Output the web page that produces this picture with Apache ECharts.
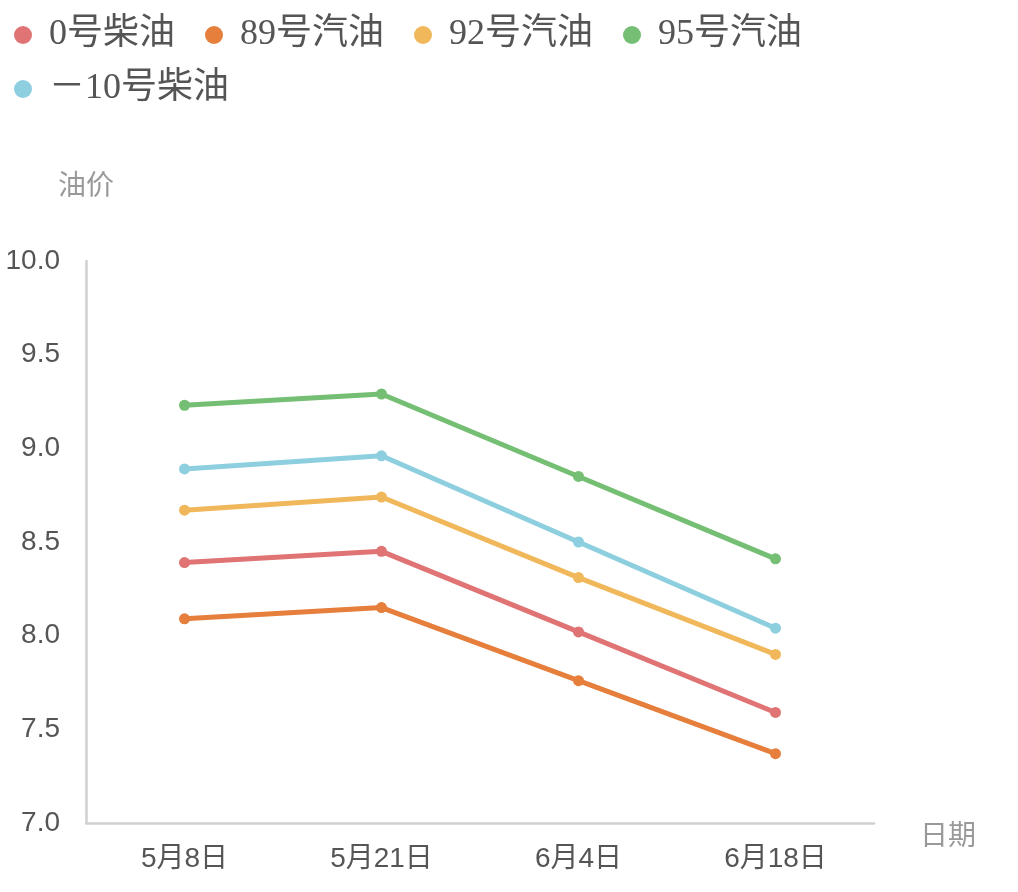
<!DOCTYPE html>
<html>
<head>
<meta charset="utf-8">
<title>油价走势</title>
<script src="https://cdn.jsdelivr.net/npm/echarts@6/dist/echarts.min.js"></script>
<style>
  html, body { margin: 0; padding: 0; background: #fff; }
  #chart { width: 1018px; height: 892px; }
</style>
</head>
<body>
<div id="chart"></div>
<script>
// 日期
var dates = ['5月8日', '5月21日', '6月4日', '6月18日'];

// 各油品价格
var diesel0 = [8.39, 8.45, 8.02, 7.59];
var gas89 = [8.09, 8.15, 7.76, 7.37];
var gas92 = [8.67, 8.74, 8.31, 7.90];
var gas95 = [9.23, 9.29, 8.85, 8.41];
var dieselMinus10 = [8.89, 8.96, 8.50, 8.04];

var seriesNames = ['0号柴油', '89号汽油', '92号汽油', '95号汽油', '－10号柴油'];
var seriesData = [diesel0, gas89, gas92, gas95, dieselMinus10];
var colors = ['#e07474', '#e67e3c', '#f0b85a', '#74bf73', '#8dcfdf'];

var sansFont = "'Liberation Sans', 'Noto Sans CJK SC'";

// 图例分两行，行距比默认更紧
function legendRow(top, names) {
  return {
    left: 9,
    top: top,
    icon: 'circle',
    itemWidth: 18,
    itemHeight: 18,
    itemGap: 30,
    data: names,
    textStyle: {
      fontFamily: "'Liberation Serif', 'Noto Sans CJK SC'",
      fontSize: 36,
      color: '#555',
      padding: [0, 0, 0, 12]
    }
  };
}

var chart = echarts.init(document.getElementById('chart'));

chart.setOption({
  color: colors,
  animation: false,
  legend: [
    legendRow(12, seriesNames.slice(0, 4)),
    legendRow(66, seriesNames.slice(4))
  ],
  grid: {
    left: 86,
    top: 261,
    right: 144,
    bottom: 69,
    containLabel: false
  },
  xAxis: {
    type: 'category',
    data: dates,
    name: '日期',
    nameGap: 46,
    nameTextStyle: {
      color: '#999',
      fontSize: 28,
      fontFamily: sansFont,
      verticalAlign: 'top',
      lineHeight: 28
    },
    axisLine: { lineStyle: { color: '#d0d0d0', width: 2.5 } },
    axisTick: { show: false },
    axisLabel: {
      color: '#555',
      fontSize: 28,
      margin: 22,
      fontFamily: sansFont
    }
  },
  yAxis: {
    type: 'value',
    min: 7,
    max: 10,
    interval: 0.5,
    name: '油价',
    nameGap: 60,
    nameTextStyle: {
      color: '#999',
      fontSize: 28,
      fontFamily: sansFont
    },
    axisLine: { show: true, lineStyle: { color: '#d0d0d0', width: 2.5 } },
    axisTick: { show: false },
    splitLine: { show: false },
    axisLabel: {
      color: '#555',
      fontSize: 28,
      margin: 26,
      fontFamily: sansFont,
      formatter: function (v) { return v.toFixed(1); }
    }
  },
  series: seriesNames.map(function (name, i) {
    return {
      name: name,
      type: 'line',
      data: seriesData[i],
      symbol: 'circle',
      symbolSize: 11,
      lineStyle: { width: 5 }
    };
  })
});
</script>
</body>
</html>
